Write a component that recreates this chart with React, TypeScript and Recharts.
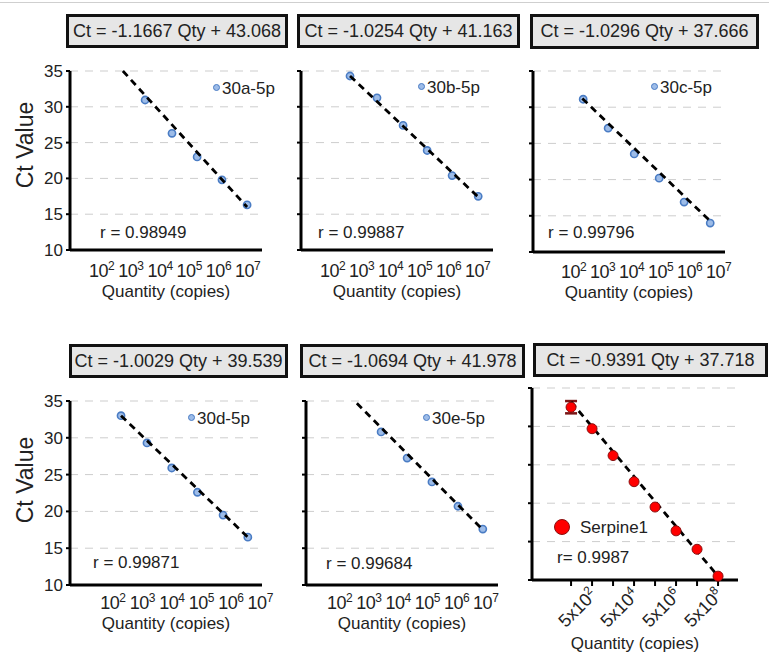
import React from 'react';
import { ScatterChart, Scatter, XAxis, YAxis, CartesianGrid, ErrorBar } from 'recharts';

const FONT = '"Liberation Sans", Arial, Helvetica, sans-serif';
const INK = '#222222';

// equations in the boxes above each panel
const equations = [
  'Ct = -1.1667 Qty + 43.068',
  'Ct = -1.0254 Qty + 41.163',
  'Ct = -1.0296 Qty + 37.666',
  'Ct = -1.0029 Qty + 39.539',
  'Ct = -1.0694 Qty + 41.978',
  'Ct = -0.9391 Qty + 37.718',
];
const seriesNames = ['30a-5p', '30b-5p', '30c-5p', '30d-5p', '30e-5p', 'Serpine1'];
const rLabels = ['r = 0.98949', 'r = 0.99887', 'r = 0.99796', 'r = 0.99871', 'r = 0.99684', 'r= 0.9987'];

// log10(copies) vs Ct for each miRNA
const qtyA = [3.49, 4.41, 5.27, 6.12, 6.98];
const ctA = [30.95, 26.3, 23.0, 19.8, 16.3];
const qtyB = [2.6, 3.53, 4.43, 5.26, 6.12, 7.02];
const ctB = [34.3, 31.25, 27.4, 23.9, 20.4, 17.5];
const qtyC = [2.33, 3.19, 4.09, 4.95, 5.81, 6.71];
const ctC = [31.1, 27.1, 23.55, 20.2, 16.9, 14.0];
const qtyD = [2.28, 3.16, 4.0, 4.87, 5.74, 6.58];
const ctD = [33.0, 29.3, 25.9, 22.6, 19.5, 16.5];
const qtyE = [3.42, 4.31, 5.16, 6.05, 6.9];
const ctE = [30.8, 27.25, 24.0, 20.7, 17.6];

// Serpine1: exponent k of 5x10^k copies
const expSerpine = [1, 2, 3, 4, 5, 6, 7, 8];
const ctSerpine = [32.5, 29.7, 26.2, 22.8, 19.5, 16.4, 14.0, 10.5];
const errSerpine = [0.8, 0, 0, 0, 0, 0, 0, 0];

// dashed fit lines: [start, end]
const fitQtyA = [2.73, 6.98];
const fitCtA = [35, 16.0];
const fitQtyB = [2.6, 7.02];
const fitCtB = [34.3, 17.4];
const fitQtyC = [2.3, 6.78];
const fitCtC = [31.2, 14.0];
const fitQtyD = [2.28, 6.58];
const fitCtD = [33.0, 16.5];
const fitQtyE = [2.59, 6.9];
const fitCtE = [34.7, 17.5];
const fitExpS = [1, 8];
const fitCtS = [33.2, 10.5];

const ctTicks = [10, 15, 20, 25, 30, 35];
const powTicks = [2, 3, 4, 5, 6, 7];
const serpineTicks = [1, 2, 3, 4, 5, 6, 7, 8];
const serpineLabelled = [2, 4, 6, 8];

const pts = (xs: number[], ys: number[], errs?: number[]) =>
  xs.map((x, i) => ({ x, y: ys[i], err: errs ? errs[i] : 0 }));

// layout of the five blue panels
const bluePanels = [
  { qty: qtyA, ct: ctA, fx: fitQtyA, fy: fitCtA, plot: [70, 71, 192, 179], domain: [0.92, 7.49], box: [66, 14, 222, 34], legend: [217, 88], r: [100, 232], yLabels: true, tickDy: 21, qtyDy: 41 },
  { qty: qtyB, ct: ctB, fx: fitQtyB, fy: fitCtB, plot: [301, 71, 192, 179], domain: [0.91, 7.53], box: [297, 14, 223, 34], legend: [422, 87], r: [318, 232], yLabels: false, tickDy: 21, qtyDy: 41 },
  { qty: qtyC, ct: ctC, fx: fitQtyC, fy: fitCtC, plot: [533, 71, 192, 181], domain: [0.6, 7.22], box: [530, 14, 229, 35], legend: [655, 87], r: [548, 232], yLabels: false, tickDy: 20, qtyDy: 40 },
  { qty: qtyD, ct: ctD, fx: fitQtyD, fy: fitCtD, plot: [70, 401, 192, 184], domain: [0.55, 7.06], box: [69, 344, 219, 34], legend: [192, 418], r: [93, 562], yLabels: true, tickDy: 18, qtyDy: 38 },
  { qty: qtyE, ct: ctE, fx: fitQtyE, fy: fitCtE, plot: [306, 401, 192, 184], domain: [0.85, 7.42], box: [300, 344, 225, 34], legend: [427, 418], r: [326, 563], yLabels: false, tickDy: 18, qtyDy: 38 },
];

const Y_W = 70;
const M_TOP = 10;
const M_RIGHT = 30;

const TitleBox = ({ box, text }: { box: number[]; text: string }) => (
  <div
    style={{
      position: 'absolute',
      left: box[0],
      top: box[1],
      width: box[2],
      height: box[3],
      boxSizing: 'border-box',
      border: '3px solid #111',
      background: '#e6e6e6',
      display: 'flex',
      alignItems: 'center',
      justifyContent: 'center',
      fontSize: 18,
      color: INK,
      whiteSpace: 'nowrap',
    }}
  >
    {text}
  </div>
);

const TextAt = ({ x, y, size, children }: { x: number; y: number; size: number; children: React.ReactNode }) => (
  <div
    style={{
      position: 'absolute',
      left: x,
      top: y,
      transform: 'translateY(-50%)',
      fontSize: size,
      lineHeight: 1,
      color: INK,
      whiteSpace: 'nowrap',
    }}
  >
    {children}
  </div>
);

const CtLabel = ({ y }: { y: number }) => (
  <div
    style={{
      position: 'absolute',
      left: 25,
      top: y,
      transform: 'translate(-50%, -50%) rotate(-90deg)',
      fontSize: 23,
      lineHeight: 1,
      color: INK,
      whiteSpace: 'nowrap',
    }}
  >
    Ct Value
  </div>
);

const blueDot = (props: any) => (
  <circle cx={props.cx} cy={props.cy} r={3.6} fill="#9dbce8" stroke="#4a7cc4" strokeWidth={1.6} />
);
const redDot = (props: any) => (
  <circle cx={props.cx} cy={props.cy} r={5} fill="#ff0000" stroke="#8a1010" strokeWidth={1} />
);
const noDot = () => <g />;

const fitLine = { stroke: '#000', strokeWidth: 2.8, strokeDasharray: '7 5' };

function BluePanel({ p, i }: { p: (typeof bluePanels)[number]; i: number }) {
  const [px, py, pw, ph] = p.plot;
  const xH = 60;
  const axisY = M_TOP + ph;
  const powTick = (props: any) => (
    <text x={props.x} y={axisY + p.tickDy + 6} textAnchor="middle" fontSize={18} fill={INK} fontFamily={FONT} letterSpacing={-0.5}>
      10
      <tspan dy={-7} fontSize={12}>
        {props.payload.value}
      </tspan>
    </text>
  );
  return (
    <>
      <div style={{ position: 'absolute', left: px - Y_W, top: py - M_TOP }}>
        <ScatterChart
          width={Y_W + pw + M_RIGHT}
          height={M_TOP + ph + xH}
          margin={{ top: M_TOP, right: M_RIGHT, left: 0, bottom: 0 }}
          style={{ fontFamily: FONT }}
        >
          <CartesianGrid vertical={false} stroke="#cdcdcd" strokeDasharray="8 7" />
          <XAxis
            type="number"
            dataKey="x"
            domain={p.domain}
            ticks={powTicks}
            allowDataOverflow
            height={xH}
            tickLine={false}
            tick={powTick}
            axisLine={{ stroke: '#000', strokeWidth: 3 }}
            label={{ value: 'Quantity (copies)', position: 'insideBottom', offset: xH - p.qtyDy - 6, fontSize: 17, fill: INK }}
          />
          <YAxis
            type="number"
            dataKey="y"
            domain={[10, 35]}
            ticks={ctTicks}
            width={Y_W}
            tickSize={4}
            tickMargin={3}
            tickLine={{ stroke: '#000', strokeWidth: 2 }}
            axisLine={{ stroke: '#000', strokeWidth: 3 }}
            tick={p.yLabels ? { fontSize: 17, fill: INK } : noDot}
          />
          <Scatter data={pts(p.qty, p.ct)} shape={blueDot} isAnimationActive={false} />
          <Scatter data={pts(p.fx, p.fy)} shape={noDot} line={fitLine} isAnimationActive={false} />
        </ScatterChart>
      </div>
      <TitleBox box={p.box} text={equations[i]} />
      <div
        style={{
          position: 'absolute',
          left: p.legend[0] - 4,
          top: p.legend[1] - 4,
          width: 5,
          height: 5,
          borderRadius: '50%',
          background: '#9dbce8',
          border: '1.6px solid #4a7cc4',
        }}
      />
      <TextAt x={p.legend[0] + 5} y={p.legend[1]} size={17}>
        {seriesNames[i]}
      </TextAt>
      <TextAt x={p.r[0]} y={p.r[1]} size={17}>
        {rLabels[i]}
      </TextAt>
    </>
  );
}

function SerpinePanel() {
  const [px, py, pw, ph] = [532, 388, 206, 192];
  const xH = 75;
  const axisY = M_TOP + ph;
  const expTick = (props: any) => {
    const k = props.payload.value;
    if (!serpineLabelled.includes(k)) return <g />;
    const tx = props.x + 6;
    const ty = axisY + 16;
    return (
      <text x={tx} y={ty} textAnchor="end" fontSize={18} fill={INK} fontFamily={FONT} transform={`rotate(-45, ${tx}, ${ty})`}>
        5x10
        <tspan dy={-7} fontSize={12}>
          {k}
        </tspan>
      </text>
    );
  };
  const data = pts(expSerpine, ctSerpine, errSerpine);
  return (
    <>
      <div style={{ position: 'absolute', left: px - Y_W, top: py - M_TOP }}>
        <ScatterChart
          width={Y_W + pw + M_RIGHT}
          height={M_TOP + ph + xH}
          margin={{ top: M_TOP, right: M_RIGHT, left: 0, bottom: 0 }}
          style={{ fontFamily: FONT }}
        >
          <CartesianGrid vertical={false} stroke="#cdcdcd" strokeDasharray="8 7" />
          <XAxis
            type="number"
            dataKey="x"
            domain={[-0.86, 8.95]}
            ticks={serpineTicks}
            allowDataOverflow
            height={xH}
            tickSize={6}
            tickLine={{ stroke: '#000', strokeWidth: 2 }}
            tick={expTick}
            axisLine={{ stroke: '#000', strokeWidth: 3 }}
            label={{ value: 'Quantity (copies)', position: 'insideBottom', offset: xH - 63 - 6, fontSize: 17, fill: INK }}
          />
          <YAxis
            type="number"
            dataKey="y"
            domain={[10, 35]}
            ticks={ctTicks}
            width={Y_W}
            tickSize={4}
            tickLine={{ stroke: '#000', strokeWidth: 2 }}
            axisLine={{ stroke: '#000', strokeWidth: 3 }}
            tick={noDot}
          />
          <Scatter data={data.filter((d) => d.err > 0)} shape={noDot} isAnimationActive={false}>
            <ErrorBar dataKey="err" direction="y" width={6} stroke="#7a1515" strokeWidth={2.5} />
          </Scatter>
          <Scatter data={pts(fitExpS, fitCtS)} shape={noDot} line={fitLine} isAnimationActive={false} />
          <Scatter data={data} shape={redDot} isAnimationActive={false} />
        </ScatterChart>
      </div>
      <TitleBox box={[533, 343, 235, 34]} text={equations[5]} />
      <div
        style={{
          position: 'absolute',
          left: 554,
          top: 519,
          width: 14,
          height: 14,
          borderRadius: '50%',
          background: '#ff0000',
          border: '1px solid #8a1010',
        }}
      />
      <TextAt x={580} y={527} size={17}>
        {seriesNames[5]}
      </TextAt>
      <TextAt x={557} y={557} size={17}>
        {rLabels[5]}
      </TextAt>
    </>
  );
}

export default function App() {
  return (
    <div
      style={{
        position: 'absolute',
        left: 0,
        top: 0,
        width: 769,
        height: 656,
        background: '#fff',
        fontFamily: FONT,
        overflow: 'hidden',
      }}
    >
      <div style={{ position: 'absolute', left: 0, top: 2, width: 769, height: 1, background: '#cfcfcf' }} />
      <CtLabel y={145} />
      <CtLabel y={480} />
      {bluePanels.map((p, i) => (
        <BluePanel key={i} p={p} i={i} />
      ))}
      <SerpinePanel />
    </div>
  );
}
